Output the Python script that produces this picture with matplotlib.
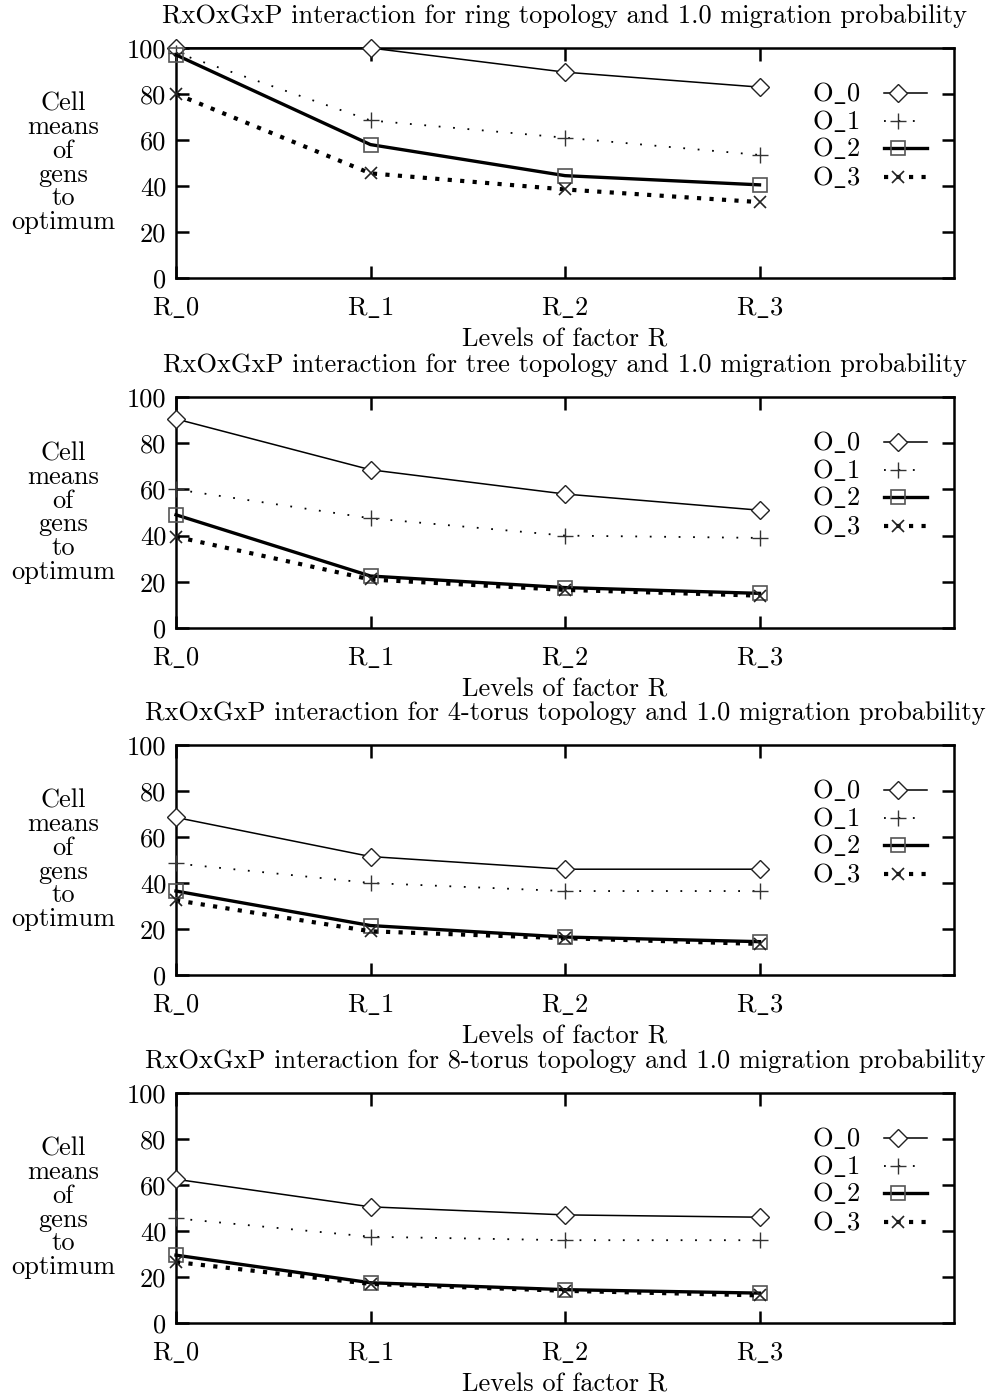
import matplotlib
matplotlib.use("Agg")
import matplotlib.pyplot as plt

plt.rcParams['font.family'] = ['cmr10', 'DejaVu Serif']
plt.rcParams['mathtext.fontset'] = 'cm'
plt.rcParams['axes.unicode_minus'] = False

levels = ["R_0", "R_1", "R_2", "R_3"]
series_names = ["O_0", "O_1", "O_2", "O_3"]
topologies = ["ring", "tree", "4-torus", "8-torus"]

ring_vals = [
    [100, 100, 89.5, 83],
    [98, 68.5, 61, 53.5],
    [97, 58, 44.5, 40.5],
    [80, 45.5, 38.5, 33],
]
tree_vals = [
    [90.5, 68.5, 58, 51],
    [60, 47.5, 40, 39],
    [49, 22.5, 17.5, 15],
    [39.5, 21, 16.5, 14],
]
torus4_vals = [
    [68.5, 51.5, 46, 46],
    [48.5, 40, 36.5, 36.5],
    [36.5, 21.5, 16.5, 14.5],
    [32.5, 19, 16, 13.5],
]
torus8_vals = [
    [62.5, 50.5, 47, 46],
    [45.5, 37.5, 36, 36],
    [29.5, 17.5, 14.5, 13],
    [26.5, 17, 14, 12],
]
all_vals = [ring_vals, tree_vals, torus4_vals, torus8_vals]


def tex_us(s):
    a, b = s.split("_")
    return a + r"$\_$" + b


styles = [
    dict(color='black', lw=1.1, ls='-', marker='D', ms=9.5, mfc='white', mec='#222222', mew=1.0),
    dict(color='black', lw=1.3, ls=(0, (1, 7)), marker='+', ms=12, mfc='none', mec='#333333', mew=1.0),
    dict(color='black', lw=2.4, ls='-', marker='s', ms=10, mfc='none', mec='#555555', mew=1.2),
    dict(color='black', lw=3.0, ls=(0, (1, 2)), marker='x', ms=9, mfc='none', mec='#222222', mew=1.2),
]

W, H = 992, 1396
fig = plt.figure(figsize=(W / 100, H / 100), dpi=100)

left_px, right_px = 176, 954
panels_px = [(48, 278), (397, 628), (745, 975), (1093, 1323)]
fs = 19

# legend layout (pixels relative to axes top-left)
leg_row_offsets = [45, 73, 100, 129]
leg_text_right = 860
leg_line = (884, 927)
leg_marker_x = 898

for i, (top, bot) in enumerate(panels_px):
    ax = fig.add_axes([left_px / W, 1 - bot / H, (right_px - left_px) / W, (bot - top) / H])
    axw = right_px - left_px
    axh = bot - top
    x = list(range(len(levels)))
    for j, name in enumerate(series_names):
        st = styles[j]
        line, = ax.plot(x, all_vals[i][j], color=st['color'], lw=st['lw'],
                        ls=st['ls'], marker=st['marker'], ms=st['ms'], mfc=st['mfc'],
                        mec=st['mec'], mew=st['mew'], clip_on=False, zorder=3)
        line.set_dash_capstyle('butt')
        # legend entry
        yy = 1 - leg_row_offsets[j] / axh
        ax.text((leg_text_right - left_px) / axw, yy, tex_us(name), transform=ax.transAxes,
                ha='right', va='center', fontsize=fs)
        l2, = ax.plot([(leg_line[0] - left_px) / axw, (leg_line[1] - left_px) / axw], [yy, yy],
                      transform=ax.transAxes, color=st['color'], lw=st['lw'], ls=st['ls'],
                      clip_on=False)
        l2.set_dash_capstyle('butt')
        ax.plot([(leg_marker_x - left_px) / axw], [yy], transform=ax.transAxes,
                ls='none', marker=st['marker'], ms=st['ms'], mfc=st['mfc'],
                mec=st['mec'], mew=st['mew'], clip_on=False, zorder=4)
    ax.set_xlim(0, 4)
    ax.set_ylim(0, 100)
    ax.set_xticks(x)
    ax.set_xticklabels([tex_us(l) for l in levels], fontsize=fs)
    ax.set_yticks([0, 20, 40, 60, 80, 100])
    ax.set_yticklabels(['0', '20', '40', '60', '80', '100'], fontsize=fs)
    ax.tick_params(direction='in', length=9, width=1.8, top=True, right=True, pad=7)
    ax.tick_params(axis='x', pad=12)
    for sp in ax.spines.values():
        sp.set_linewidth(1.8)
    ax.set_title(f"RxOxGxP interaction for {topologies[i]} topology and 1.0 migration probability",
                 fontsize=fs, pad=18)
    ax.set_xlabel("Levels of factor R", fontsize=fs, labelpad=6)
    ax.text(-0.145, 0.5, "Cell\nmeans\nof\ngens\nto\noptimum", transform=ax.transAxes,
            ha='center', va='center', fontsize=fs, linespacing=1.0)

fig.savefig("out.png", dpi=100)
